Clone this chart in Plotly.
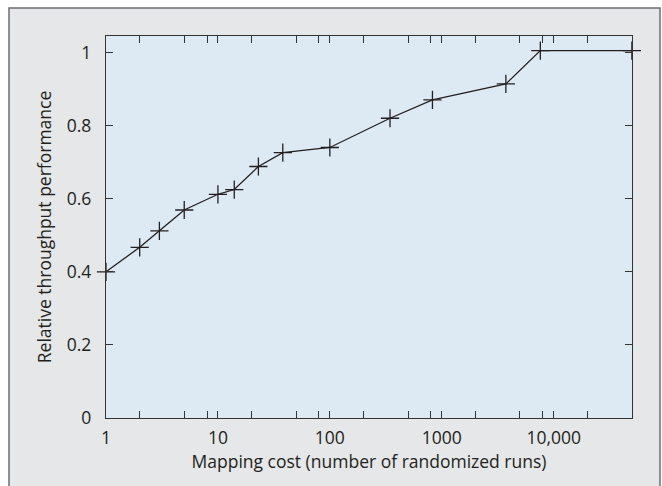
import plotly.graph_objects as go

# Data
cost = [1, 2, 3, 5, 10, 14, 23, 38, 100, 345, 826, 3740, 7600, 50000]
perf = [0.400, 0.467, 0.512, 0.569, 0.612, 0.625, 0.688, 0.726, 0.740,
        0.820, 0.870, 0.914, 1.005, 1.005]

x_tickvals = [1, 2, 5, 8, 10, 20, 50, 80, 100, 200, 500, 800,
              1000, 2000, 5000, 8000, 10000, 20000]
x_ticktext = ["1", "", "", "", "10", "", "", "", "100", "", "", "",
              "1000", "", "", "", "10,000", ""]
y_tickvals = [0, 0.2, 0.4, 0.6, 0.8, 1.0]
y_ticktext = ["0", "0.2", "0.4", "0.6", "0.8", "1"]

x_title = "Mapping cost (number of randomized runs)"
y_title = "Relative throughput performance"

INK = "#231f20"
AX = "#333333"
FS = 17.5

W, H = 662, 486
ML, MR, MT, MB = 106, 30, 36, 68
PW, PH = W - ML - MR, H - MT - MB

fig = go.Figure()
fig.add_trace(go.Scatter(
    x=cost, y=perf, mode="lines+markers",
    line=dict(color=INK, width=1.3),
    marker=dict(symbol="cross-thin", size=13, line=dict(color=INK, width=1.3)),
    cliponaxis=False, showlegend=False,
))

def px_x(p):
    return (p - ML) / PW

def px_y(p):
    return (H - MB - p) / PH

shapes = [
    dict(type="rect", xref="paper", yref="paper", layer="below",
         x0=px_x(9), x1=px_x(660), y0=px_y(520), y1=px_y(8),
         fillcolor="#e6e7e8", line=dict(color="#6d6e71", width=1.5)),
    dict(type="rect", xref="paper", yref="paper", layer="below",
         x0=0, x1=1, y0=0, y1=1, fillcolor="#ddeaf3", line=dict(width=0)),
]

axis_common = dict(
    showline=True, linecolor=AX, linewidth=1.3, mirror="ticks",
    ticks="inside", ticklen=7, tickwidth=1.3, tickcolor=AX,
    showgrid=False, zeroline=False,
    tickfont=dict(family="Open Sans", size=FS, color=INK),
)

fig.update_layout(
    width=W, height=H,
    margin=dict(l=ML, r=MR, t=MT, b=MB, autoexpand=False),
    paper_bgcolor="white", plot_bgcolor="rgba(0,0,0,0)",
    font=dict(family="Open Sans", size=FS, color=INK),
    shapes=shapes,
    xaxis=dict(type="log", range=[0, 4.7], tickmode="array",
               tickvals=x_tickvals, ticktext=x_ticktext,
               ticklabelstandoff=4,
               title=dict(text=x_title, standoff=4,
                          font=dict(family="Open Sans", size=FS, color=INK)),
               **axis_common),
    yaxis=dict(range=[0, 1.045], tickmode="array",
               tickvals=y_tickvals, ticktext=y_ticktext,
               ticklabelstandoff=10,
               title=dict(text=y_title, standoff=10,
                          font=dict(family="Open Sans", size=FS, color=INK)),
               **axis_common),
)

fig.write_html("out.html")
